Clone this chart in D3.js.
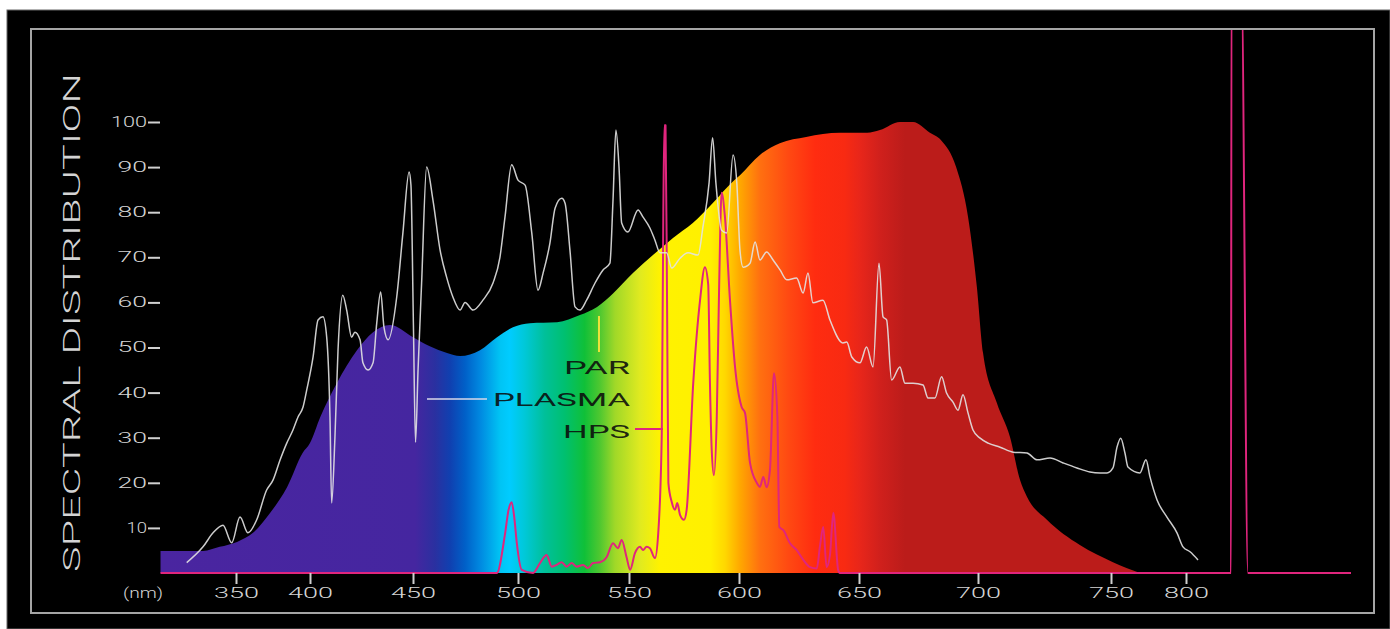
<!DOCTYPE html>
<html>
<head>
<meta charset="utf-8">
<script src="https://d3js.org/d3.v7.min.js"></script>
<style>
  body { margin: 0; background: #fff; }
  svg { display: block; }
  .lbl { font-family: Roboto, "DejaVu Sans", sans-serif; font-weight: 300; fill: #d4d4d4; }
</style>
</head>
<body>
<svg id="chart" width="1390" height="629"></svg>
<script>
// x ticks (nm) and where the artwork places them (the axis is not uniform)
var tickNm = [350, 400, 450, 500, 550, 600, 650, 700, 750, 800];
var tickPx = [236, 310, 413, 518, 629, 739, 859, 978, 1111, 1186];
var yTicks = [10, 20, 30, 40, 50, 60, 70, 80, 90, 100];

// PAR curve
var parNm  = [299, 327.7, 339, 350.7, 361.5, 373, 384.5, 395, 400, 405, 413, 422.8, 430.6, 438.8, 450, 458, 466.2, 472.4, 481.9, 490, 497.6, 505.4, 517.6, 527.9, 535.6, 542.8, 551.8, 560.9, 570, 579, 588, 597, 600.4, 608.7, 617, 628, 642, 653.4, 658.8, 667.2, 672.7, 679.8, 684.4, 690.8, 695.8, 699.5, 701.9, 707.1, 712, 715.8, 718.4, 725.9, 738.3, 751.3, 769.3];
var parVal = [4.9, 4.9, 5.8, 6.9, 8.9, 13.3, 19, 26.6, 28.8, 34.6, 42.1, 49.4, 53.4, 55, 52.3, 50.3, 48.8, 48.1, 49.4, 52.3, 54.5, 55.4, 55.6, 57.2, 59, 62, 66.5, 70.5, 74.3, 77.6, 82, 86.7, 88.2, 92.7, 95.3, 96.7, 97.6, 97.6, 98.2, 100, 100, 97.6, 96, 90, 79, 63.5, 48.8, 37.7, 30.2, 20.6, 16.9, 11.8, 6.2, 2.4, 0];

// plasma lamp
var plasmaNm  = [316.7, 327.7, 334.5, 341.2, 347.1, 352.7, 358.1, 364, 370.7, 375, 379.7, 384.3, 388.5, 391.9, 395.3, 397.8, 401.5, 403.9, 406.3, 408.1, 409.7, 410.5, 412.1, 413.6, 415.9, 417.8, 420.2, 421.8, 424.3, 425.7, 428.2, 430.6, 432.4, 434.3, 435.9, 437.9, 442.1, 445.1, 448.1, 449, 450.2, 451.2, 452.4, 454.1, 456.5, 459.5, 462.9, 466, 469, 472.4, 474.8, 478.6, 483.3, 488.1, 491.4, 493.8, 497, 500, 503.2, 506.2, 509, 511.3, 514.4, 516.7, 519.7, 521.2, 523.4, 525.7, 527.9, 530.9, 534.7, 538.3, 541.4, 542.8, 544.1, 545.5, 546.7, 549.5, 554.1, 556.4, 559.5, 561.8, 564.1, 567.1, 569.4, 573.2, 576.8, 581.4, 583.6, 586.4, 588, 589.5, 592.1, 594.4, 597.3, 599, 600.4, 601.7, 604.6, 606.7, 608.75, 611.5, 614.2, 617.1, 619.9, 624, 626.7, 628.75, 630.8, 635, 637.9, 643.3, 644.9, 647, 650.4, 653.2, 655.9, 658.4, 660.1, 661.6, 663.7, 667.2, 669.3, 672.7, 676.9, 679, 681.9, 684.7, 686.8, 689.5, 691.6, 693.7, 695.8, 697.9, 700.8, 703.8, 708.3, 713.2, 718.4, 722.2, 727.1, 732, 737.2, 742.1, 745.9, 748.5, 751.3, 754, 756.5, 759.3, 761.3, 769.3, 773.3, 776, 780.7, 787.3, 794, 798, 802.7, 808];
var plasmaVal = [2.3, 5.8, 8.9, 10.6, 6.7, 12.4, 8.9, 11.8, 18.4, 20.6, 25, 28.8, 31.7, 34.6, 36.8, 40.6, 47.9, 56.1, 56.8, 52.3, 34.6, 15.5, 30, 49.4, 61.6, 58.3, 52.3, 53.4, 51.7, 46.6, 45, 46.6, 55.4, 62.3, 54.5, 51.7, 61.2, 75.4, 88.9, 86, 55, 29, 45, 64.3, 90, 82.7, 71.6, 65.6, 61.2, 58.3, 60, 58.3, 60.5, 64.3, 70, 78.9, 90.5, 87.1, 86, 75.4, 62.7, 66.5, 73.2, 80.9, 83.1, 82, 71.6, 59, 58.3, 60.5, 64.3, 67.2, 68.7, 82.7, 98.2, 90, 77.6, 75.6, 80.5, 78.9, 76.5, 73.8, 71, 71, 67.6, 69.8, 71, 70.5, 76.7, 86.5, 96.5, 86.5, 76, 75.4, 92.7, 86.5, 71.6, 67.8, 68.7, 73.4, 69.4, 71.2, 69.4, 67.2, 65, 65.4, 62.1, 66.5, 59.9, 60.5, 56.1, 51, 51.2, 47.9, 46.6, 50.1, 45.7, 68.7, 56.8, 56.1, 42.8, 45.7, 42.1, 42.1, 41.7, 38.8, 38.8, 43.5, 39.9, 37.9, 36.1, 39.5, 35.5, 31.7, 29.9, 28.8, 27.9, 26.8, 26.6, 25.1, 25.5, 24.4, 23.3, 22.4, 22.2, 22.2, 23.3, 27.9, 29.9, 26.6, 23.5, 22.2, 25.1, 21.3, 16.2, 12.4, 8.9, 5.8, 4.7, 2.9];

// HPS lamp
var hpsNm  = [299, 486.7, 489.9, 493.8, 495.5, 497, 498.3, 499.4, 501.7, 506.8, 509.9, 512.9, 515.2, 517.4, 519.7, 521.9, 524.2, 526.4, 529.3, 531.5, 533.8, 536.9, 539.9, 542.8, 545, 546.7, 548.9, 550.5, 552.7, 555, 556.4, 558, 559.5, 561.8, 563.3, 564.9, 565.6, 566.1, 566.6, 567.3, 567.9, 569.4, 570.9, 571.95, 573.2, 575, 576.2, 579.2, 582.3, 584.5, 586, 586.8, 587.6, 588.6, 589.9, 591, 592.1, 593.6, 595.9, 598.2, 601.1, 602.5, 604.6, 607.4, 608.75, 610.1, 611.5, 612.9, 614.6, 616, 616.8, 618.5, 621.25, 624, 626.8, 629.6, 632.4, 633.75, 635.1, 636.5, 637.9, 639.3, 641.3, 642, 830, 830.3, 837, 841.3, 910];
var hpsVal = [0, 0, 0, 8.6, 14, 15.7, 12, 6.8, 0.7, 0, 2.2, 4, 1.4, 1.8, 2.4, 1.4, 2.2, 1.4, 1.8, 1.1, 2.2, 2.4, 3.5, 6.6, 5.5, 7.3, 3.5, 0.7, 4.4, 5.8, 5.1, 5.8, 5.5, 3.3, 8.9, 31, 80, 99.3, 99.3, 60, 20, 15.8, 14, 15.5, 12.9, 11.8, 14, 42.1, 60.5, 67.8, 64, 42, 27.3, 21.7, 34.6, 64.3, 84.3, 79, 60.5, 45.7, 36.8, 35.5, 24.4, 20, 19.1, 21.3, 19, 22.8, 44.3, 34.6, 10.2, 9.5, 6.6, 5.1, 2.9, 1.3, 1, 6, 10.2, 1.3, 4, 13.3, 0.7, 0, 0, 130, 130, 0, 0];

// spectrum colours of the PAR fill
var gradNm    = [299, 451, 460.5, 467.6, 474.8, 481.9, 491.5, 496, 503, 512, 521, 530, 537, 543.7, 555, 564, 587, 593.6, 600.4, 608.75, 621, 631.7, 644, 650.4, 658.8, 669.3, 770];
var gradColor = ["#4a25a0", "#4526a0", "#2a30a0", "#1040b0", "#0060c8", "#0088e0", "#00c4f4", "#00ccff", "#00c8d8", "#00c09a", "#00c070", "#10c038", "#50c830", "#a0d828", "#e0ea20", "#fff200", "#fff000", "#ffd800", "#ffa800", "#ff7010", "#ff4812", "#ff2c10", "#f82a12", "#e8261a", "#d0201c", "#bb1c1a", "#bb1c1a"];

var svg = d3.select("#chart");

var x = d3.scaleLinear().domain(tickNm).range(tickPx);
var y = d3.scaleLinear().domain([0, 100]).range([573, 122]);

// background + frame
svg.append("rect").attr("x", 7).attr("y", 10).attr("width", 1383).attr("height", 619)
    .attr("fill", "#000").attr("stroke", "#666").attr("stroke-width", 1);
svg.append("rect").attr("x", 31).attr("y", 29).attr("width", 1343).attr("height", 584)
    .attr("fill", "none").attr("stroke", "#a5a5a5").attr("stroke-width", 2);

var defs = svg.append("defs");
defs.append("clipPath").attr("id", "plotClip")
    .append("rect").attr("x", 32).attr("y", 30).attr("width", 1341).attr("height", 582);

var x0 = x(gradNm[0]), x1 = x(gradNm[gradNm.length - 1]);
var grad = defs.append("linearGradient").attr("id", "parGrad")
    .attr("gradientUnits", "userSpaceOnUse")
    .attr("x1", x0).attr("x2", x1).attr("y1", 0).attr("y2", 0);
grad.selectAll("stop").data(gradNm).enter().append("stop")
    .attr("offset", function(d) { return (x(d) - x0) / (x1 - x0); })
    .attr("stop-color", function(d, i) { return gradColor[i]; });

var plot = svg.append("g").attr("clip-path", "url(#plotClip)");

var area = d3.area()
    .x(function(d) { return x(d[0]); })
    .y0(y(0))
    .y1(function(d) { return y(d[1]); })
    .curve(d3.curveMonotoneX);
var line = d3.line()
    .x(function(d) { return x(d[0]); })
    .y(function(d) { return y(d[1]); })
    .curve(d3.curveMonotoneX);

plot.append("path")
    .datum(d3.zip(parNm, parVal))
    .attr("d", area)
    .attr("fill", "url(#parGrad)");

plot.append("path")
    .datum(d3.zip(hpsNm, hpsVal))
    .attr("d", line)
    .attr("fill", "none")
    .attr("stroke", "#e0257d")
    .attr("stroke-width", 2)
    .attr("stroke-linejoin", "round");

plot.append("path")
    .datum(d3.zip(plasmaNm, plasmaVal))
    .attr("d", line)
    .attr("fill", "none")
    .attr("stroke", "#e2e2e2")
    .attr("stroke-opacity", 0.9)
    .attr("stroke-width", 1.5)
    .attr("stroke-linejoin", "round");

// widths of the wide display font
function labelWidth(s) {
    var w = 0;
    for (var i = 0; i < s.length; i++) w += s[i] === "1" ? 5 : 14;
    return w + (s.length - 1) * 1.5;
}

// y axis
var yAxis = svg.append("g").attr("transform", "translate(160,0)")
    .call(d3.axisLeft(y).tickValues(yTicks).tickSize(12).tickPadding(1));
yAxis.select(".domain").remove();
yAxis.selectAll("line").attr("stroke", "#d0d0d0").attr("stroke-width", 2);
yAxis.selectAll("text")
    .attr("class", "lbl")
    .attr("font-size", 14)
    .attr("textLength", function(d) { return labelWidth(String(d)); })
    .attr("lengthAdjust", "spacingAndGlyphs");

// x axis
var xAxis = svg.append("g").attr("transform", "translate(0,573)")
    .call(d3.axisBottom(x).tickValues(tickNm).tickSize(11).tickPadding(3));
xAxis.select(".domain").remove();
xAxis.selectAll("line").attr("stroke", "#d0d0d0").attr("stroke-width", 2);
xAxis.selectAll("text")
    .attr("class", "lbl")
    .attr("font-size", 15.5)
    .attr("textLength", function(d) { return labelWidth(String(d)); })
    .attr("lengthAdjust", "spacingAndGlyphs");

svg.append("text").attr("class", "lbl")
    .attr("x", 123).attr("y", 598)
    .attr("font-size", 15)
    .attr("textLength", 40).attr("lengthAdjust", "spacingAndGlyphs")
    .text("(nm)");

// axis title
svg.append("text").attr("class", "lbl")
    .attr("transform", "translate(80,572) rotate(-90)")
    .attr("font-size", 24)
    .attr("textLength", 499).attr("lengthAdjust", "spacingAndGlyphs")
    .text("SPECTRAL DISTRIBUTION");

// legend
svg.append("line").attr("x1", 599).attr("x2", 599).attr("y1", 316).attr("y2", 352)
    .attr("stroke", "#ece23a").attr("stroke-width", 2);
svg.append("line").attr("x1", 427).attr("x2", 487).attr("y1", 399).attr("y2", 399)
    .attr("stroke", "#d8d8e8").attr("stroke-width", 1.6);
svg.append("line").attr("x1", 635).attr("x2", 663).attr("y1", 429).attr("y2", 429)
    .attr("stroke", "#e0257d").attr("stroke-width", 2);

var legend = [["PAR", 374, 66], ["PLASMA", 406, 137], ["HPS", 437.5, 67]];
legend.forEach(function(l) {
    svg.append("text")
        .attr("x", 630 - l[2]).attr("y", l[1])
        .attr("font-family", "Roboto, DejaVu Sans, sans-serif")
        .attr("font-size", 17.5)
        .attr("fill", "#0c0c0c")
        .attr("fill-opacity", 0.9)
        .attr("textLength", l[2]).attr("lengthAdjust", "spacingAndGlyphs")
        .text(l[0]);
});
</script>
</body>
</html>
